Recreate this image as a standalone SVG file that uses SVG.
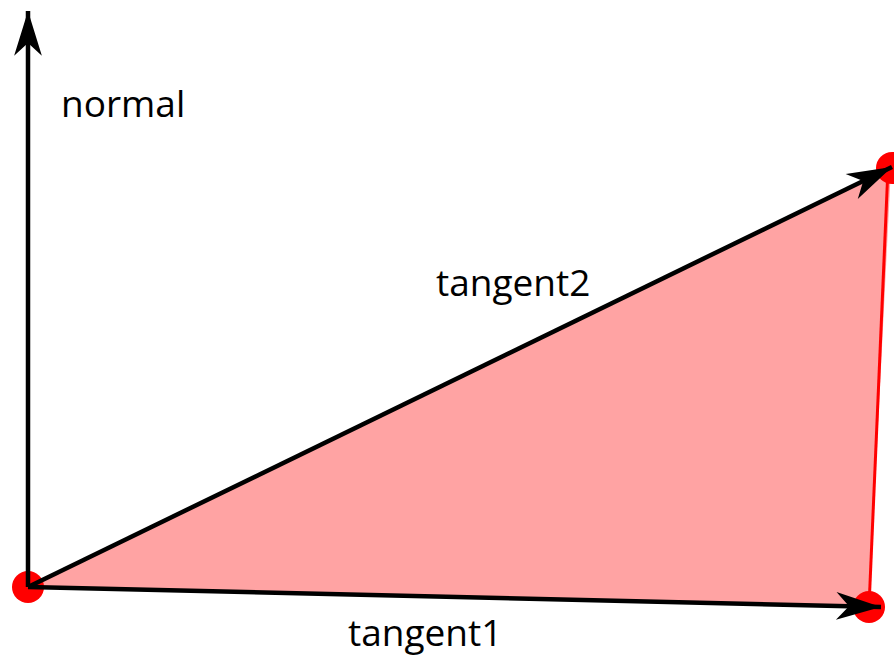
<svg xmlns="http://www.w3.org/2000/svg" width="894" height="657" viewBox="0 0 894 657">
<style>
.vec{stroke:#000;stroke-width:4.5;fill:none;marker-end:url(#ah)}
.pt{fill:#ff0000}
.lbl{font-family:"Open Sans","Liberation Sans",sans-serif;font-size:37px;fill:#000}
</style>
<defs>
<marker id="ah" markerUnits="userSpaceOnUse" markerWidth="50" markerHeight="32" viewBox="-44 -15 46 30" refX="0" refY="0" orient="auto">
<path d="M0,0 L-42,-13 L-30,0 L-42,13 Z" fill="#000"/>
</marker>
</defs>
<g id="triangle">
<polygon points="28,587 891,167 869,607" fill="#ffa3a3"/>
<line x1="888" y1="168" x2="869" y2="607" stroke="#ff0000" stroke-width="3"/>
</g>
<g id="points">
<circle class="pt" cx="28" cy="587" r="16"/>
<circle class="pt" cx="892" cy="168" r="16"/>
<circle class="pt" cx="869" cy="607" r="16"/>
</g>
<g id="connectors">
<line class="vec" x1="28" y1="587" x2="28" y2="11"/>
<line class="vec" x1="28" y1="587" x2="881" y2="607"/>
<line class="vec" x1="28" y1="587" x2="892" y2="167"/>
</g>
<g id="labels">
<text class="lbl" x="61" y="117">normal</text>
<text class="lbl" x="436" y="296">tangent2</text>
<text class="lbl" x="348" y="646">tangent1</text>
</g>
</svg>
